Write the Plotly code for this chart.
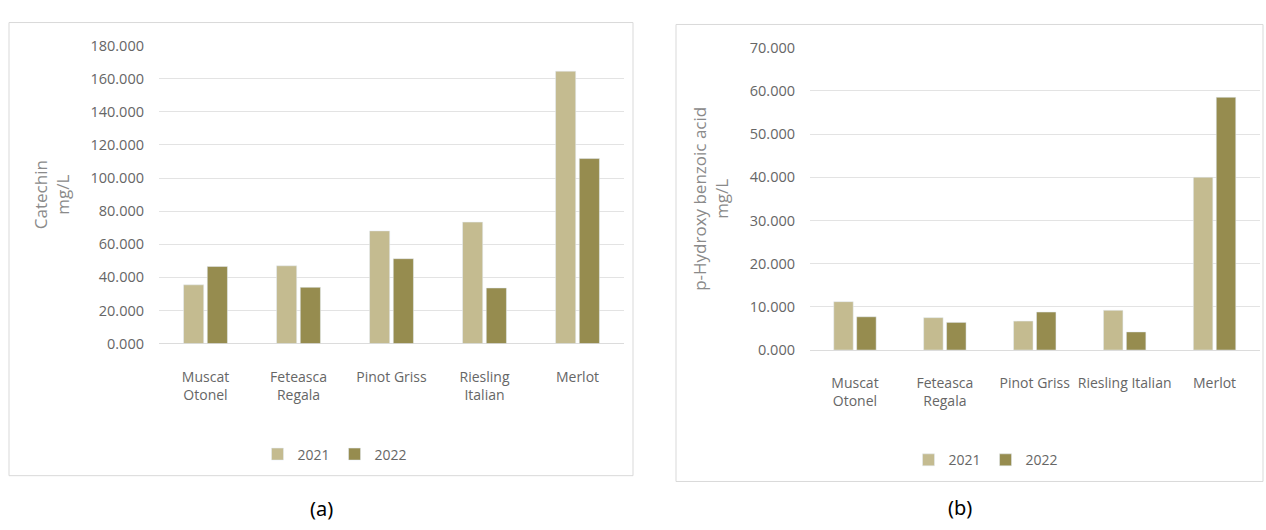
import plotly.graph_objects as go

# Grape varieties and yearly concentrations (mg/L)
varieties = ["Muscat Otonel", "Feteasca Regala", "Pinot Griss", "Riesling Italian", "Merlot"]
labels_a = ["Muscat<br>Otonel", "Feteasca<br>Regala", "Pinot Griss", "Riesling<br>Italian", "Merlot"]
labels_b = ["Muscat<br>Otonel", "Feteasca<br>Regala", "Pinot Griss", "Riesling Italian", "Merlot"]

catechin_2021 = [35.5, 47.0, 68.1, 73.4, 164.6]
catechin_2022 = [46.6, 34.0, 51.3, 33.6, 111.8]

hydroxybenzoic_2021 = [11.2, 7.5, 6.7, 9.2, 40.0]
hydroxybenzoic_2022 = [7.7, 6.4, 8.8, 4.2, 58.5]

years = ["2021", "2022"]
colors = {"2021": "#c4bb90", "2022": "#968c4f"}

W, H = 1266, 530
FONT = "Open Sans"
TICK_COLOR = "#666666"
GRID = "#e3e3e3"


def px_x(v):
    return v / W


def px_y(v):
    return 1 - v / H


fig = go.Figure()

for yr, vals in zip(years, [catechin_2021, catechin_2022]):
    fig.add_trace(go.Bar(
        x=varieties, y=vals, name=yr, marker_color=colors[yr],
        xaxis="x", yaxis="y", legend="legend",
    ))

for yr, vals in zip(years, [hydroxybenzoic_2021, hydroxybenzoic_2022]):
    fig.add_trace(go.Bar(
        x=varieties, y=vals, name=yr, marker_color=colors[yr],
        xaxis="x2", yaxis="y2", legend="legend2",
    ))

ytick_font = dict(family=FONT, size=14.5, color=TICK_COLOR)
xtick_font = dict(family=FONT, size=14, color=TICK_COLOR)
title_font = dict(family=FONT, size=17, color="#8a8a8a")

xcommon = dict(
    type="category", showgrid=False, showline=False, zeroline=False,
    ticks="", tickfont=xtick_font, ticklabelstandoff=23, tickvals=varieties,
)
ycommon = dict(
    showgrid=True, gridcolor=GRID, gridwidth=1, zeroline=True,
    zerolinecolor="#dcdcdc", zerolinewidth=1, showline=False, ticks="",
    tickformat=".3f", tickfont=ytick_font, ticklabelstandoff=14,
)

legend_common = dict(
    orientation="h", xanchor="center", yanchor="middle",
    font=dict(family=FONT, size=14, color=TICK_COLOR), itemwidth=30,
    bgcolor="rgba(0,0,0,0)",
)

fig.update_layout(
    width=W, height=H,
    margin=dict(l=0, r=0, t=0, b=0),
    paper_bgcolor="white", plot_bgcolor="white",
    barmode="group", bargap=0.49, bargroupgap=0.15,
    xaxis=dict(xcommon, domain=[px_x(159), px_x(624)], anchor="y", ticktext=labels_a),
    yaxis=dict(ycommon, domain=[px_y(346), px_y(37)], range=[0, 180], dtick=20, anchor="x",
               title=dict(text="Catechin<br>mg/L", font=title_font, standoff=16)),
    xaxis2=dict(xcommon, domain=[px_x(810), px_x(1259.5)], anchor="y2", ticktext=labels_b),
    yaxis2=dict(ycommon, domain=[px_y(352.7), px_y(39)], range=[0, 70], dtick=10, anchor="x2",
                title=dict(text="p-Hydroxy benzoic acid<br>mg/L", font=title_font, standoff=16)),
    legend=dict(legend_common, x=px_x(335), y=px_y(461)),
    legend2=dict(legend_common, x=px_x(986), y=px_y(467)),
    shapes=[
        dict(type="rect", xref="paper", yref="paper",
             x0=px_x(9), x1=px_x(633), y0=px_y(483), y1=px_y(13),
             line=dict(color="#d9d9d9", width=1), fillcolor="rgba(0,0,0,0)", layer="below"),
        dict(type="rect", xref="paper", yref="paper",
             x0=px_x(676), x1=px_x(1263), y0=px_y(489), y1=px_y(15),
             line=dict(color="#d9d9d9", width=1), fillcolor="rgba(0,0,0,0)", layer="below"),
    ],
    annotations=[
        dict(text="(a)", xref="paper", yref="paper", x=px_x(321), y=px_y(517),
             xanchor="center", yanchor="middle",
             showarrow=False, font=dict(family="Noto Sans", size=20, color="black")),
        dict(text="(b)", xref="paper", yref="paper", x=px_x(960), y=px_y(516),
             xanchor="center", yanchor="middle",
             showarrow=False, font=dict(family="Noto Sans", size=20, color="black")),
    ],
)

fig.write_html("out.html")
